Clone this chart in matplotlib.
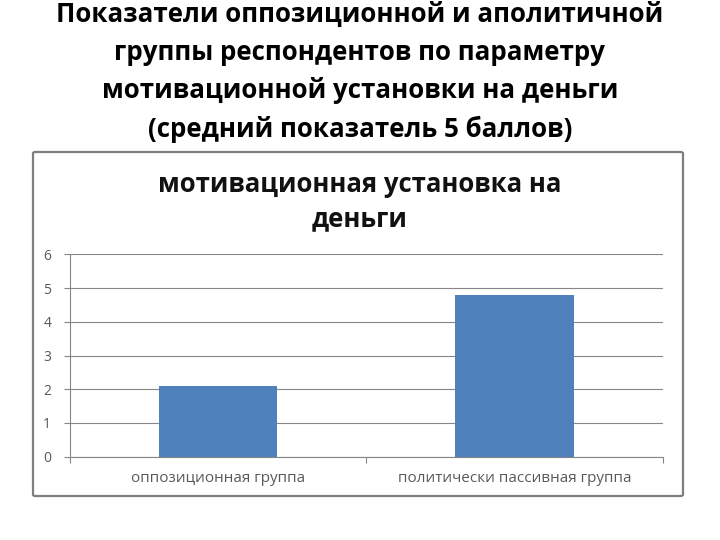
import matplotlib
matplotlib.use("Agg")
import matplotlib.pyplot as plt
from matplotlib.patches import FancyBboxPatch

# Данные диаграммы
categories = ["оппозиционная группа", "политически пассивная группа"]
values = [2.1, 4.8]
y_ticks = [0, 1, 2, 3, 4, 5, 6]

slide_title = [
    "Показатели оппозиционной и аполитичной",
    "группы респондентов по параметру",
    "мотивационной установки на деньги",
    "(средний показатель 5 баллов)",
]
chart_title = ["мотивационная установка на", "деньги"]

plt.rcParams["font.family"] = ["Open Sans", "DejaVu Sans"]

fig = plt.figure(figsize=(7.2, 5.4), dpi=100)
W, H = 720, 540

# Заголовок слайда
for i, line in enumerate(slide_title):
    fig.text(0.5, 1 - (14 + 38.5 * i) / H, line, ha="center", va="center",
             fontsize=18.6, fontweight="bold", color="black")

# Рамка диаграммы
frame = FancyBboxPatch((33 / W, 1 - 496 / H), (683 - 33) / W, (496 - 152) / H,
                       boxstyle="round,pad=0,rounding_size=0.003",
                       transform=fig.transFigure, fill=False,
                       edgecolor="#7f7f7f", linewidth=1.6)
fig.patches.append(frame)

# Заголовок диаграммы
for i, line in enumerate(chart_title):
    fig.text(0.5, 1 - (184 + 35 * i) / H, line, ha="center", va="center",
             fontsize=18.5, fontweight="bold", color="#111111")

ax = fig.add_axes([70 / W, 1 - 456.7 / H, (662.7 - 70) / W, (456.7 - 254.3) / H])
x = range(len(categories))
ax.bar(x, values, width=0.4, color="#4f81bd", zorder=3)
ax.set_xlim(-0.5, len(categories) - 0.5)
ax.set_ylim(0, 6)
ax.set_yticks(y_ticks)
ax.set_yticklabels([str(t) for t in y_ticks], fontsize=10, color="#595959")
ax.set_xticks(list(x))
ax.set_xticklabels(categories, fontsize=11, color="#595959")
ax.tick_params(axis="y", length=4.5, color="#868686", width=0.8, pad=9)
ax.tick_params(axis="x", length=0, pad=10)
# Метки-разделители категорий
ax.set_xticks([-0.5, 0.5, 1.5], minor=True)
ax.tick_params(axis="x", which="minor", length=4, color="#868686", width=0.8)
ax.grid(axis="y", color="#868686", linewidth=0.8, zorder=0)
for side in ["top", "right"]:
    ax.spines[side].set_visible(False)
for side in ["left", "bottom"]:
    ax.spines[side].set_color("#868686")
    ax.spines[side].set_linewidth(0.8)

fig.savefig("out.png", dpi=100)
